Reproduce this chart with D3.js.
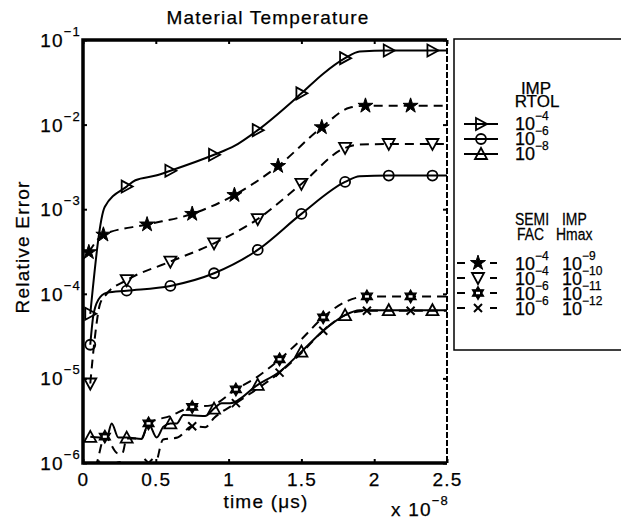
<!DOCTYPE html>
<html>
<head>
<meta charset="utf-8">
<script src="https://cdn.jsdelivr.net/npm/d3@7"></script>
<style>
  body { margin: 0; background: #fff; }
  text { font-family: "Liberation Sans", Arial, sans-serif; fill: #000; stroke: #000; stroke-width: 0.25px; letter-spacing: 1.2px; }
  .leg text { letter-spacing: 0; }
</style>
</head>
<body>
<svg id="chart" width="621" height="520"></svg>
<script>
// time values are in units of 1e-8 s (axis shows "x 10^-8")
const xTicks = [0, 0.5, 1, 1.5, 2, 2.5]
const yTicks = [1e-6, 1e-5, 1e-4, 1e-3, 1e-2, 1e-1]

// IMP, RTOL 1e-4
const tA = [0.05, 0.15, 0.3, 0.36, 0.5, 0.6, 0.9, 1.04, 1.2, 1.5, 1.65, 1.8, 1.9, 2.1, 2.4, 2.5]
const yA = [5.8e-5, 1.07e-3, 1.85e-3, 2.2e-3, 2.5e-3, 2.85e-3, 4.4e-3, 5.6e-3, 8.6e-3, 2.34e-2, 4.0e-2, 6.1e-2, 7.3e-2, 7.5e-2, 7.5e-2, 7.5e-2]
const mA = [0.05, 0.3, 0.6, 0.9, 1.2, 1.5, 1.8, 2.1, 2.4]

// SEMI FAC 1e-4, IMP Hmax 1e-9
const tB = [0.04, 0.14, 0.44, 0.75, 1.04, 1.34, 1.64, 1.83, 1.94, 2.25, 2.5]
const yB = [3.1e-4, 5.0e-4, 6.6e-4, 8.8e-4, 1.47e-3, 3.24e-3, 9.3e-3, 1.58e-2, 1.67e-2, 1.67e-2, 1.67e-2]
const mB = [0.04, 0.14, 0.44, 0.75, 1.04, 1.34, 1.64, 1.94, 2.25]

// SEMI FAC 1e-4, IMP Hmax 1e-10
const tC = [0.05, 0.082, 0.117, 0.163, 0.3, 0.6, 0.9, 1.2, 1.5, 1.8, 1.9, 2.1, 2.4, 2.5]
const yC = [8.7e-6, 3.1e-5, 7.6e-5, 1.0e-4, 1.45e-4, 2.4e-4, 3.95e-4, 7.65e-4, 1.99e-3, 5.3e-3, 5.8e-3, 5.9e-3, 5.9e-3, 5.9e-3]
const mC = [0.05, 0.3, 0.6, 0.9, 1.2, 1.5, 1.8, 2.1, 2.4]

// IMP, RTOL 1e-6
const tD = [0.05, 0.07, 0.105, 0.163, 0.3, 0.6, 0.9, 1.2, 1.5, 1.8, 1.9, 2.1, 2.4, 2.5]
const yD = [2.5e-5, 5.4e-5, 8.5e-5, 1.03e-4, 1.09e-4, 1.24e-4, 1.75e-4, 3.3e-4, 8.8e-4, 2.1e-3, 2.45e-3, 2.5e-3, 2.5e-3, 2.5e-3]
const mD = [0.05, 0.3, 0.6, 0.9, 1.2, 1.5, 1.8, 2.1, 2.4]

// IMP, RTOL 1e-8
const tE = [0.05, 0.163, 0.197, 0.243, 0.3, 0.403, 0.449, 0.506, 0.552, 0.6, 0.644, 0.689, 0.838, 0.9, 0.952, 1.01, 1.2, 1.35, 1.5, 1.65, 1.8, 1.9, 2.1, 2.4, 2.5]
const yE = [2.04e-6, 1.99e-6, 2.94e-6, 2.0e-6, 2.0e-6, 1.92e-6, 2.94e-6, 2.0e-6, 2.69e-6, 2.94e-6, 2.94e-6, 3.69e-6, 3.6e-6, 4.4e-6, 5.08e-6, 5.08e-6, 8.4e-6, 1.2e-5, 2.07e-5, 3.66e-5, 5.6e-5, 6.4e-5, 6.4e-5, 6.4e-5, 6.4e-5]
const mE = [0.05, 0.3, 0.6, 0.9, 1.2, 1.5, 1.8, 2.1, 2.4]

// SEMI FAC 1e-6, IMP Hmax 1e-11
const tF = [0.05, 0.095, 0.15, 0.24, 0.27, 0.3, 0.4, 0.45, 0.6, 0.75, 0.88, 1.05, 1.2, 1.35, 1.5, 1.65, 1.8, 1.95, 2.25, 2.5]
const yF = [6e-7, 1.0e-6, 2.05e-6, 1.3e-6, 1.3e-6, 1.95e-6, 1.95e-6, 2.94e-6, 3.6e-6, 4.6e-6, 4.8e-6, 7.4e-6, 1.05e-5, 1.68e-5, 2.9e-5, 5.27e-5, 8.0e-5, 9.3e-5, 9.3e-5, 9.3e-5]
const mF = [0.05, 0.15, 0.45, 0.75, 1.05, 1.35, 1.65, 1.95, 2.25]

// SEMI FAC 1e-6, IMP Hmax 1e-12
const tG = [0.05, 0.107, 0.15, 0.25, 0.3, 0.45, 0.49, 0.55, 0.65, 0.75, 0.84, 0.9, 1.05, 1.2, 1.35, 1.5, 1.65, 1.8, 1.95, 2.25, 2.5]
const yG = [6e-7, 1.05e-6, 8e-7, 1.03e-6, 8e-7, 1.0e-6, 9e-7, 1.9e-6, 2.0e-6, 2.72e-6, 2.65e-6, 3.4e-6, 5.1e-6, 7.6e-6, 1.17e-5, 2.0e-5, 3.66e-5, 5.6e-5, 6.3e-5, 6.3e-5, 6.3e-5]
const mG = [0.05, 0.15, 0.45, 0.75, 1.05, 1.35, 1.65, 1.95, 2.25]

// legend rows
const rtolLabels = ['−4', '−6', '−8']
const facLabels = ['−4', '−4', '−6', '−6']
const hmaxLabels = ['−9', '−10', '−11', '−12']

const pLeft = 83, pRight = 447, pTop = 40, pBottom = 463

const svg = d3.select('#chart')

const x = d3.scaleLinear().domain([0, 2.5]).range([pLeft, pRight])
const y = d3.scaleLog().domain([1e-6, 1e-1]).range([pBottom, pTop])

// marker shapes
const markerPath = {
    triRight: 'M-5,-6L6,0L-5,6Z',
    triDown: 'M-6,-5L6,-5L0,6Z',
    triUp: 'M-6,5L6,5L0,-6Z',
    star: d3.symbol(d3.symbolStar, 70)(),
    hex: 'M0,-6.5L5.6,3.25L-5.6,3.25Z M0,6.5L-5.6,-3.25L5.6,-3.25Z',
    cross: 'M-4,-4L4,4M-4,4L4,-4'
}

const series = [
    { t: tA, v: yA, m: mA, dash: null, shape: 'triRight' },
    { t: tB, v: yB, m: mB, dash: '9,6', shape: 'star' },
    { t: tC, v: yC, m: mC, dash: '9,6', shape: 'triDown' },
    { t: tD, v: yD, m: mD, dash: null, shape: 'circle' },
    { t: tE, v: yE, m: mE, dash: null, shape: 'triUp' },
    { t: tF, v: yF, m: mF, dash: '9,6', shape: 'hex' },
    { t: tG, v: yG, m: mG, dash: '9,6', shape: 'cross' }
]

function drawMarker(g, shape, cx, cy) {
    if (shape === 'circle') {
        g.append('circle')
            .attr('cx', cx).attr('cy', cy).attr('r', 5)
            .attr('fill', 'none').attr('stroke', '#000').attr('stroke-width', 1.8)
        return
    }
    const p = g.append('path')
        .attr('d', markerPath[shape])
        .attr('transform', `translate(${cx},${cy})`)
        .attr('stroke', '#000')
    if (shape === 'star') {
        p.attr('fill', '#000').attr('stroke-width', 1)
    } else if (shape === 'hex') {
        p.attr('fill', '#000').attr('stroke-width', 1.2)
        g.append('rect')
            .attr('x', cx - 2).attr('y', cy - 1.2)
            .attr('width', 4).attr('height', 2.4)
            .attr('fill', '#fff')
    } else if (shape === 'cross') {
        p.attr('fill', 'none').attr('stroke-width', 2)
    } else {
        p.attr('fill', 'none').attr('stroke-width', 1.8)
    }
}

// superscript number like 10^-4
function powLabel(g, px, py, exp, anchor, size) {
    const t = g.append('text')
        .attr('x', px).attr('y', py)
        .attr('text-anchor', anchor)
        .style('font-size', size + 'px')
    t.append('tspan').text('10')
    t.append('tspan').attr('dy', -Math.round(size * 0.58)).style('font-size', Math.round(size * 0.68) + 'px').text(exp)
    return t
}

svg.append('defs').append('clipPath').attr('id', 'plotclip')
    .append('rect')
    .attr('x', pLeft).attr('y', pTop)
    .attr('width', pRight - pLeft).attr('height', pBottom - pTop)

// data
const lineGen = d3.line()
    .x(d => x(d[0]))
    .y(d => y(d[1]))
    .curve(d3.curveMonotoneX)

const plot = svg.append('g').attr('clip-path', 'url(#plotclip)')

series.forEach(s => {
    const pts = s.t.map((t, i) => [t, s.v[i]])
    plot.append('path')
        .attr('d', lineGen(pts))
        .attr('fill', 'none')
        .attr('stroke', '#000')
        .attr('stroke-width', 2)
        .attr('stroke-dasharray', s.dash)
    s.m.forEach(mt => {
        const i = s.t.indexOf(mt)
        drawMarker(plot, s.shape, x(mt), y(s.v[i]))
    })
})

// axes, ticks pointing inward
const xAxis = svg.append('g')
    .attr('transform', `translate(0,${pBottom})`)
    .call(d3.axisBottom(x).tickValues(xTicks).tickSizeInner(-4).tickSizeOuter(0)
        .tickPadding(10).tickFormat(d3.format('')))
xAxis.select('.domain').remove()
xAxis.selectAll('line').attr('stroke-width', 2)
xAxis.selectAll('text').style('font-size', '19px')

const xTop = svg.append('g')
    .attr('transform', `translate(0,${pTop})`)
    .call(d3.axisTop(x).tickValues(xTicks).tickSizeInner(-4).tickSizeOuter(0).tickFormat(''))
xTop.select('.domain').remove()
xTop.selectAll('line').attr('stroke-width', 2)

const yAxis = svg.append('g')
    .attr('transform', `translate(${pLeft},0)`)
    .call(d3.axisLeft(y).tickValues(yTicks).tickSizeInner(-4).tickSizeOuter(0).tickFormat(''))
yAxis.select('.domain').remove()
yAxis.selectAll('line').attr('stroke-width', 2)

const yRight = svg.append('g')
    .attr('transform', `translate(${pRight},0)`)
    .call(d3.axisRight(y).tickValues(yTicks).tickSizeInner(-4).tickSizeOuter(0).tickFormat(''))
yRight.select('.domain').remove()
yRight.selectAll('line').attr('stroke-width', 2)

yTicks.forEach(v => {
    powLabel(svg, 81, y(v) + 7, '−' + Math.round(-Math.log10(v)), 'end', 19)
})

// frame
svg.append('path')
    .attr('d', `M${pRight},${pTop}H${pLeft}V${pBottom}H${pRight}`)
    .attr('fill', 'none').attr('stroke', '#000').attr('stroke-width', 3.5)
svg.append('line')
    .attr('x1', pRight).attr('x2', pRight).attr('y1', pTop).attr('y2', pBottom)
    .attr('stroke', '#000').attr('stroke-width', 2).attr('stroke-dasharray', '6,2')

// titles
svg.append('text')
    .attr('x', 268).attr('y', 24)
    .attr('text-anchor', 'middle')
    .style('font-size', '19px')
    .text('Material Temperature')

svg.append('text')
    .attr('transform', 'translate(29,247) rotate(-90)')
    .attr('text-anchor', 'middle')
    .style('font-size', '19px')
    .text('Relative Error')

svg.append('text')
    .attr('x', 266).attr('y', 508)
    .attr('text-anchor', 'middle')
    .style('font-size', '19px')
    .text('time (μs)')

const mult = svg.append('text')
    .attr('x', 391).attr('y', 516)
    .style('font-size', '19px')
mult.append('tspan').text('x 10')
mult.append('tspan').attr('dy', -11).style('font-size', '13px').text('−8')

// legend
const leg = svg.append('g').attr('class', 'leg')
leg.append('rect')
    .attr('x', 454).attr('y', 39)
    .attr('width', 180).attr('height', 311)
    .attr('fill', '#fff').attr('stroke', '#000').attr('stroke-width', 1.5)

leg.append('text').attr('x', 536).attr('y', 94).attr('text-anchor', 'middle')
    .style('font-size', '17px').text('IMP')
leg.append('text').attr('x', 537).attr('y', 107).attr('text-anchor', 'middle')
    .style('font-size', '17px').text('RTOL')

const solidRows = [series[0], series[3], series[4]]
solidRows.forEach((s, i) => {
    const base = 130 + i * 15
    leg.append('line')
        .attr('x1', 464).attr('x2', 498).attr('y1', base - 6).attr('y2', base - 6)
        .attr('stroke', '#000').attr('stroke-width', 2)
    drawMarker(leg, s.shape, 481, base - 6)
    powLabel(leg, 515, base, rtolLabels[i], 'start', 18)
})

// lower legend headings are narrower in the original
const heads = [['SEMI', 515, 225], ['IMP', 562, 225], ['FAC', 517, 240], ['Hmax', 556, 240]]
heads.forEach(h => {
    leg.append('text')
        .attr('transform', `translate(${h[1]},${h[2]}) scale(0.82,1)`)
        .style('font-size', '17px')
        .text(h[0])
})

const dashRows = [series[1], series[2], series[5], series[6]]
dashRows.forEach((s, i) => {
    const base = 270 + i * 15
    leg.append('line')
        .attr('x1', 457).attr('x2', 497).attr('y1', base - 7).attr('y2', base - 7)
        .attr('stroke', '#000').attr('stroke-width', 2)
        .attr('stroke-dasharray', '8,25,8')
    drawMarker(leg, s.shape, 478, base - 7)
    powLabel(leg, 515, base, facLabels[i], 'start', 18)
    powLabel(leg, 562, base, hmaxLabels[i], 'start', 18)
})
</script>
</body>
</html>
